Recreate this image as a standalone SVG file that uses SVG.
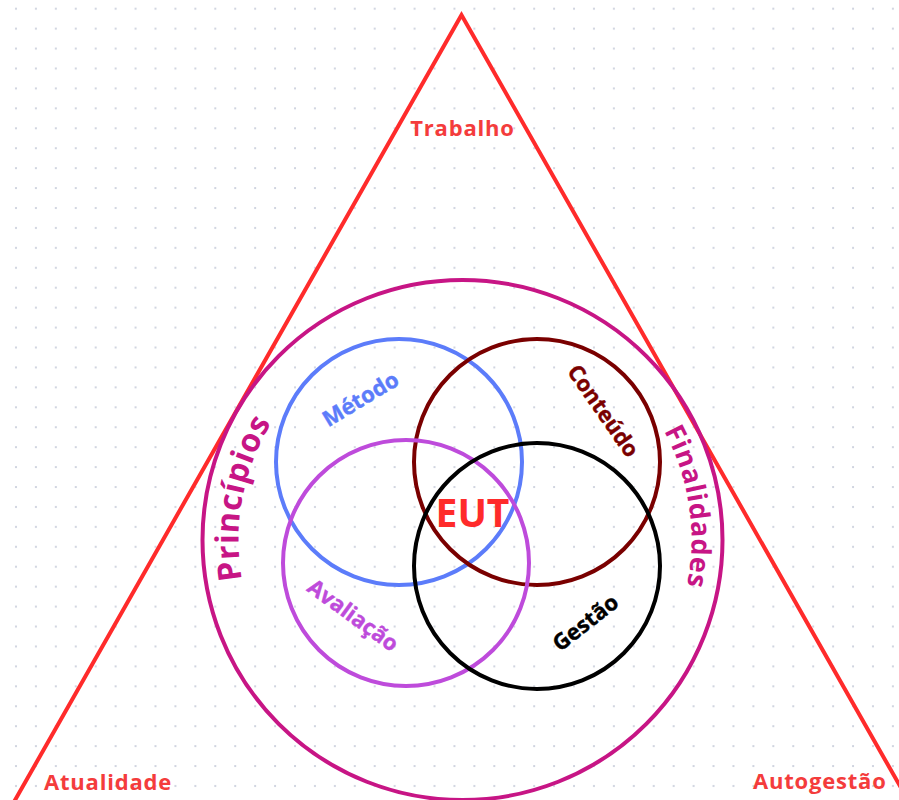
<svg xmlns="http://www.w3.org/2000/svg" xmlns:xlink="http://www.w3.org/1999/xlink" width="899" height="800" viewBox="0 0 899 800">
  <style>
    text { font-family: "Open Sans", "Noto Sans", "Liberation Sans", sans-serif; font-weight: 700; }
    .ring { fill: none; stroke-width: 4; }
    .corner { fill: #f43c3c; font-size: 22px; letter-spacing: 0.8px; }
    .small { font-size: 22px; stroke-width: 0.4px; text-anchor: middle; }
  </style>
  <defs>
    <pattern id="dots" x="6" y="-1.3" width="19.93" height="19.93" patternUnits="userSpaceOnUse">
      <circle cx="10" cy="10" r="1.1" fill="#c9cedb"/>
    </pattern>
    <!-- baselines for the curved labels on the large ring -->
    <path id="arc-principios" d="M267.16,649.62 A224,224 0 0 1 320.62,366.66"/>
    <path id="arc-finalidades" d="M614.54,368.75 A229,229 0 0 1 657.55,660.00"/>
  </defs>

  <rect width="899" height="800" fill="#ffffff"/>
  <rect width="899" height="800" fill="url(#dots)"/>

  <!-- outer triangle with its three corner labels -->
  <g id="triangle">
    <polygon points="461.5,15 2,823 921,823" fill="none" stroke="#ff2b2b" stroke-width="4" stroke-linejoin="miter"/>
    <text class="corner" x="462.5" y="136" text-anchor="middle">Trabalho</text>
    <text class="corner" x="44" y="790">Atualidade</text>
    <text class="corner" x="753" y="789">Autogestão</text>
  </g>

  <!-- large ring: principles and purposes -->
  <g id="ring-outer">
    <circle class="ring" cx="462.5" cy="540" r="260" stroke="#c71585"/>
    <text fill="#c71585" font-size="32" letter-spacing="0.6"><textPath xlink:href="#arc-principios" href="#arc-principios" startOffset="50%" text-anchor="middle">Princípios</textPath></text>
    <text fill="#c71585" font-size="27" letter-spacing="0.6"><textPath xlink:href="#arc-finalidades" href="#arc-finalidades" startOffset="50%" text-anchor="middle">Finalidades</textPath></text>
  </g>

  <g id="metodo">
    <circle class="ring" cx="399" cy="462" r="123" stroke="#5c7cfa"/>
    <text class="small" fill="#5c7cfa" stroke="#5c7cfa" transform="translate(361,400) rotate(-31)" dy="0.3em">Método</text>
  </g>

  <g id="conteudo">
    <circle class="ring" cx="537" cy="462" r="123" stroke="#7a0000"/>
    <text class="small" fill="#7a0000" stroke="#7a0000" transform="translate(602.5,411.5) rotate(55)" dy="0.3em">Conteúdo</text>
  </g>

  <g id="avaliacao">
    <circle class="ring" cx="406" cy="563" r="123" stroke="#be4bdb"/>
    <text class="small" fill="#be4bdb" stroke="#be4bdb" font-size="23.5" transform="translate(352.5,616) rotate(36)" dy="0.3em">Avaliação</text>
  </g>

  <g id="gestao">
    <circle class="ring" cx="537" cy="566" r="123" stroke="#000000"/>
    <text class="small" fill="#000000" stroke="#000000" font-size="23" transform="translate(586,623.5) rotate(-38)" dy="0.3em">Gestão</text>
  </g>

  <g id="eut">
    <text x="472.5" y="527" text-anchor="middle" font-size="39" fill="#ff2b2b">EUT</text>
  </g>

  <g id="connectors"/>
</svg>
